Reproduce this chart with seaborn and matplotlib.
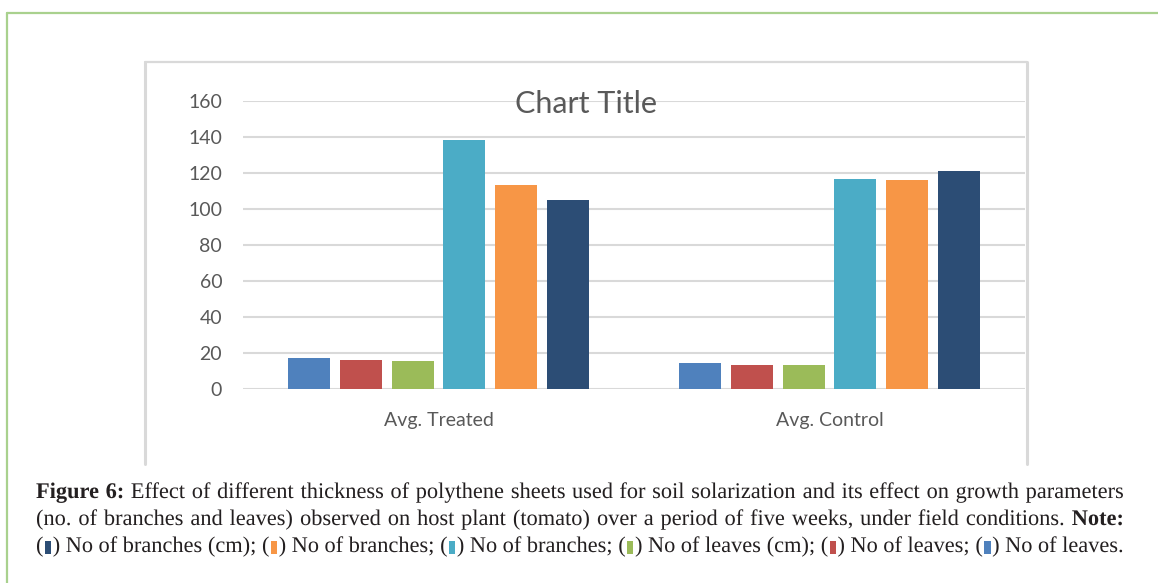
import matplotlib
matplotlib.use("Agg")
import matplotlib.pyplot as plt
import matplotlib.patheffects as pe
from matplotlib.lines import Line2D
import seaborn as sns
import pandas as pd

# ---- data ----
categories = ["Avg. Treated", "Avg. Control"]
series_names = ["Series1", "Series2", "Series3", "Series4", "Series5", "Series6"]
leaves_1 = [17.4, 14.4]
leaves_2 = [16.4, 13.7]
leaves_cm = [15.5, 13.7]
branches_1 = [138.5, 117.0]
branches_2 = [113.5, 116.1]
branches_cm = [105.2, 121.4]
y_ticks = [0, 20, 40, 60, 80, 100, 120, 140, 160]
colors = ["#4F81BD", "#C0504D", "#9BBB59", "#4BACC6", "#F79646", "#2C4D75"]

values = [leaves_1, leaves_2, leaves_cm, branches_1, branches_2, branches_cm]
rows = []
for name, vals in zip(series_names, values):
    for cat, v in zip(categories, vals):
        rows.append({"category": cat, "series": name, "value": v})
df = pd.DataFrame(rows)

sns.set_theme(style="white")
plt.rcParams["font.family"] = ["Lato", "DejaVu Sans"]

W, H = 1158, 583
fig = plt.figure(figsize=(W / 100, H / 100), dpi=100)
fig.patch.set_facecolor("white")

def fx(px):
    return px / W

def fy(py):
    return 1 - py / H

# outer frame (top and left edges)
fig.add_artist(Line2D([fx(7), 1.0], [fy(13), fy(13)], color="#A9D18E", lw=1.6))
fig.add_artist(Line2D([fx(7), fx(7)], [fy(13), 0.0], color="#A9D18E", lw=1.6))

# chart box
box_c = "#D9D9D9"
fig.add_artist(Line2D([fx(145), fx(145)], [fy(464), fy(62)], color=box_c, lw=2.2))
fig.add_artist(Line2D([fx(145), fx(1027)], [fy(62), fy(62)], color=box_c, lw=1.6))
fig.add_artist(Line2D([fx(1027), fx(1027)], [fy(62), fy(464)], color=box_c, lw=2.2))

# plot area
left, right = 243, 1025
top, bottom = 101.3, 389.3
ax = fig.add_axes([fx(left), fy(bottom), fx(right - left), (bottom - top) / H])

sns.barplot(data=df, x="category", y="value", hue="series", hue_order=series_names,
            order=categories, palette=colors, saturation=1, width=0.796, gap=0.19,
            linewidth=0, legend=False, ax=ax)

ax.set_xlim(-0.5, 1.5)
ax.set_ylim(0, 160)
ax.set_yticks(y_ticks)
ax.set_yticklabels([str(t) for t in y_ticks])
ax.set_xlabel("")
ax.set_ylabel("")
ax.grid(axis="y", color="#D9D9D9", lw=1.5)
ax.set_axisbelow(True)
for s in ax.spines.values():
    s.set_visible(False)
ax.tick_params(axis="both", length=0, colors="#595959", labelsize=14)
ax.tick_params(axis="y", pad=15)
ax.tick_params(axis="x", pad=16)
ax.set_facecolor("none")

# chart title
fig.text(fx(586), fy(113), "Chart Title", ha="center", va="baseline",
         fontsize=22, color="#595959", fontweight="normal")

# ---- caption ----
ink = "#231F20"
serif = "Liberation Serif"
mark = "\u25AE"

def words(text, weight="normal"):
    return [[(w, ink, weight)] for w in text.split()]

def marker(c):
    return [("(", ink, "normal"), (mark, c, "mark"), (")", ink, "normal")]

line1 = words("Figure 6:", "bold") + words(
    "Effect of different thickness of polythene sheets used for soil solarization "
    "and its effect on growth parameters")
line2 = words("(no. of branches and leaves) observed on host plant (tomato) over a period "
              "of five weeks, under field conditions.") + words("Note:", "bold")
line3 = ([marker("#2C4D75")] + words("No of branches (cm);")
         + [marker("#F79646")] + words("No of branches;")
         + [marker("#4BACC6")] + words("No of branches;")
         + [marker("#9BBB59")] + words("No of leaves (cm);")
         + [marker("#C0504D")] + words("No of leaves;")
         + [marker("#4F81BD")] + words("No of leaves."))
lines = [line1, line2, line3]

x0, x1 = 36, 1124
baselines = [498, 525, 552]

fig.canvas.draw()
renderer = fig.canvas.get_renderer()

def style(weight, size):
    if weight == "mark":
        return dict(fontsize=size * 0.75, family="DejaVu Sans", fontweight="normal")
    return dict(fontsize=size, family=serif, fontweight=weight)

def run_width(txt, weight, size):
    t = fig.text(0, 0, txt, **style(weight, size))
    w = t.get_window_extent(renderer).width
    t.remove()
    return w

# pick the caption size so the longest line fills the text block with plain spaces
ref_size = 12.0
space_w = run_width("a a", "normal", ref_size) - run_width("aa", "normal", ref_size)
natural = []
for line in lines:
    wsum = sum(run_width(t, wt, ref_size) for word in line for (t, c, wt) in word)
    natural.append(wsum + space_w * (len(line) - 1))
cap_size = ref_size * (x1 - x0) / max(natural)

# drawn as outlines so every word shares one exact baseline
as_path = [pe.Normal()]

for line, base in zip(lines, baselines):
    widths = [[run_width(t, wt, cap_size) for (t, c, wt) in word] for word in line]
    total = sum(sum(w) for w in widths)
    gap = (x1 - x0 - total) / (len(line) - 1)
    x = x0
    for word, ws in zip(line, widths):
        for (t, c, wt), w in zip(word, ws):
            fig.text(fx(x), fy(base), t, color=c, va="baseline", ha="left",
                     path_effects=as_path, **style(wt, cap_size))
            x += w
        x += gap

fig.savefig("out.png", dpi=100, facecolor="white")
